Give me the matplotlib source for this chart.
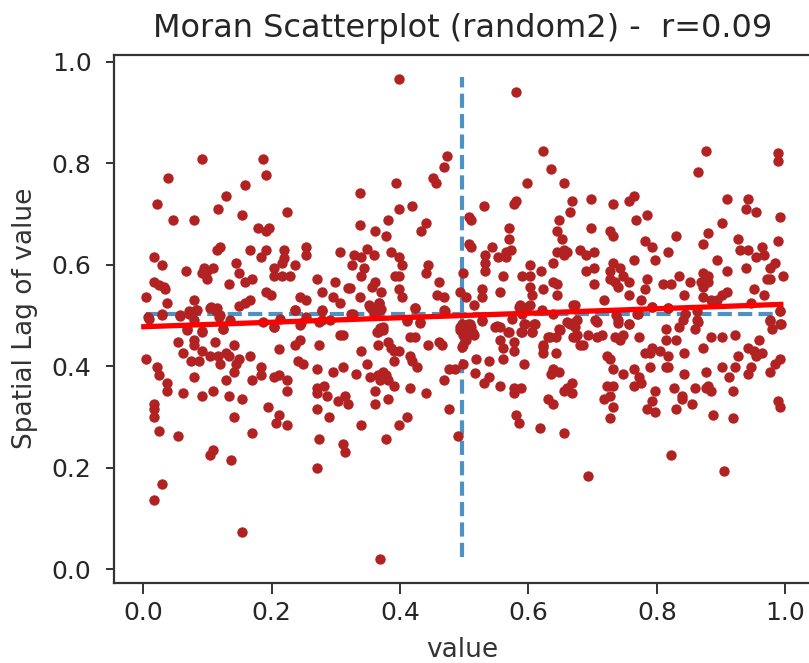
import matplotlib
matplotlib.use("Agg")
import matplotlib.pyplot as plt

# points, region by region
value_upper_left = [.092,.187,.191,.038,.158,.129,.021,.116,.154,.224,.046,.079,.179,.191,.196,.119,.115,.166,.191,.183,
    .220,.220,.253,.253,.307,.017,.029,.145,.066,.095,.108,.091,.100,.100,.149,.158,.170,.133,.203,.216,
    .203,.216,.228,.237,.270,.299,.017,.025,.033,.034,.004,.191,.199,.278,.245,.253,.295,.307,.319,.166,
    .158,.149,.079,.037,.237,.278,.104,.115,.083,.071,.058,.029,.008,.120]
lag_upper_left = [.809,.809,.777,.772,.757,.736,.720,.709,.699,.704,.688,.688,.673,.667,.673,.636,.630,.630,.630,.615,
    .630,.613,.636,.620,.625,.615,.599,.604,.588,.593,.593,.583,.588,.573,.583,.567,.573,.562,.593,.603,
    .578,.578,.578,.599,.573,.567,.567,.561,.557,.552,.536,.546,.541,.546,.536,.531,.536,.525,.555,.531,
    .524,.519,.531,.525,.510,.510,.515,.514,.510,.504,.499,.502,.497,.501]

value_upper_mid = [.399,.581,.623,.473,.469,.635,.452,.456,.394,.598,.656,.337,.668,.581,.577,.531,.419,.399,.664,.507,
    .511,.382,.648,.337,.440,.432,.361,.378,.569,.569,.644,.652,.507,.511,.544,.386,.399,.403,.532,.532,
    .532,.573,.565,.565,.552,.644,.656,.660,.656,.639,.681,.444,.440,.498,.602,.619,.590,.602,.561,.392,
    .399,.361,.357,.461,.639,.644,.602,.623,.527,.556,.399,.370,.322,.494,.457,.469,.403,.527,.502,.606,
    .644,.337,.515,.673,.424,.469,.351,.368,.357,.370,.324,.585,.598,.590,.329,.340,.348,.360,.325,.344,.340]
lag_upper_mid = [.967,.941,.825,.815,.793,.788,.772,.762,.762,.762,.762,.741,.725,.725,.720,.715,.715,.709,.704,.695,
    .688,.688,.688,.678,.683,.667,.667,.657,.673,.651,.667,.651,.641,.636,.636,.625,.615,.599,.620,.604,
    .588,.630,.625,.615,.615,.625,.630,.625,.620,.604,.630,.599,.583,.583,.599,.588,.578,.578,.578,.578,
    .578,.567,.557,.567,.567,.562,.557,.552,.552,.546,.552,.546,.554,.546,.541,.536,.536,.536,.536,.541,
    .541,.536,.520,.520,.515,.510,.520,.524,.512,.512,.504,.517,.517,.504,.620,.615,.631,.620,.600,.594,.578]

value_upper_right = [.876,.988,.988,.864,.698,.731,.764,.756,.909,.942,.938,.955,.785,.768,.992,.901,.698,.727,.731,.880,
    .830,.926,.988,.781,.793,.872,.963,.930,.942,.818,.967,.955,.689,.702,.764,.797,.893,.984,.731,.702,
    .689,.909,.938,.976,.727,.743,.727,.735,.739,.747,.756,.785,.835,.702,.810,.822,.851,.872,.880,.868,
    .880,.872,.971,.996,.976,.781,.951,.756,.843,.909,.901,.967,.872,.893,.884,.718,.776,.947,.793,.818,
    .992,.737,.769]
lag_upper_right = [.825,.820,.804,.783,.730,.720,.736,.725,.730,.730,.709,.704,.699,.688,.694,.683,.673,.667,.657,.662,
    .657,.651,.646,.646,.636,.641,.636,.630,.630,.625,.620,.615,.620,.625,.609,.609,.609,.604,.604,.594,
    .588,.588,.594,.594,.588,.594,.573,.567,.557,.578,.567,.573,.578,.562,.562,.562,.567,.583,.578,.567,
    .567,.557,.573,.578,.573,.552,.552,.541,.541,.546,.541,.541,.536,.531,.531,.531,.531,.525,.517,.514,
    .508,.501,.504]

value_lower_left = [.307,.212,.245,.237,.274,.203,.245,.274,.054,.079,.079,.112,.141,.062,.091,.104,.116,.129,.133,.004,
    .075,.087,.120,.149,.145,.166,.021,.025,.141,.079,.129,.183,.183,.170,.241,.249,.270,.295,.311,.203,
    .212,.224,.224,.037,.037,.062,.091,.108,.133,.154,.270,.270,.282,.286,.303,.315,.319,.017,.017,.017,
    .195,.212,.207,.224,.141,.270,.290,.025,.054,.170,.274,.311,.315,.108,.104,.137,.270,.029,.017,.154,
    .068,.091,.124]
lag_lower_left = [.462,.435,.452,.441,.441,.477,.482,.487,.447,.452,.441,.447,.441,.426,.431,.420,.420,.426,.420,.415,
    .410,.410,.404,.415,.404,.420,.399,.383,.389,.378,.373,.399,.383,.373,.410,.404,.394,.389,.399,.378,
    .383,.373,.352,.368,.352,.347,.341,.352,.341,.336,.357,.347,.362,.341,.331,.341,.326,.326,.315,.300,
    .320,.305,.289,.284,.300,.315,.300,.273,.263,.268,.257,.247,.231,.236,.226,.215,.200,.168,.137,.073,
    .473,.468,.473]

value_lower_mid = [.369,.490,.378,.656,.618,.340,.398,.411,.477,.581,.585,.361,.382,.440,.415,.639,.631,.668,.656,.668,
    .660,.577,.577,.589,.556,.531,.539,.517,.469,.361,.390,.382,.378,.369,.365,.353,.373,.332,.348,.390,
    .427,.419,.415,.340,.365,.382,.386,.390,.398,.415,.423,.444,.460,.465,.477,.485,.498,.519,.539,.560,
    .593,.635,.639,.647,.643,.622,.622,.631,.643,.647,.606,.610,.589,.593,.577,.577,.556,.560,.568,.548,
    .556,.527,.498,.498,.494,.506,.510,.515,.502,.502,.369,.365,.373,.411,.431,.311,.670,.676,.680]
lag_lower_mid = [.021,.263,.257,.268,.278,.284,.284,.300,.315,.305,.289,.326,.336,.347,.357,.326,.336,.347,.352,.368,
    .357,.347,.357,.357,.362,.368,.378,.386,.373,.352,.362,.373,.383,.373,.383,.378,.389,.384,.404,.410,
    .399,.410,.420,.431,.441,.447,.436,.431,.431,.457,.457,.441,.447,.441,.394,.394,.404,.415,.410,.415,
    .404,.384,.394,.389,.426,.441,.426,.457,.457,.473,.468,.483,.468,.483,.447,.431,.452,.436,.468,.478,
    .478,.489,.441,.462,.478,.483,.478,.462,.468,.452,.473,.468,.478,.489,.486,.462,.486,.462,.442]

value_lower_right = [.693,.822,.905,.727,.731,.718,.727,.722,.731,.764,.772,.776,.764,.747,.731,.727,.722,.685,.673,.693,
    .706,.714,.735,.743,.747,.772,.739,.756,.706,.814,.814,.830,.835,.859,.864,.884,.901,.922,.872,.843,
    .781,.793,.789,.805,.818,.789,.814,.818,.843,.876,.901,.922,.926,.913,.947,.942,.976,.984,.992,.959,
    .942,.951,.955,.963,.980,.992,.976,.797,.826,.859,.876,.880,.884,.918,.839,.839,.855,.793,.785,.797,
    .830,.888,.918,.988,.992]
lag_lower_right = [.184,.226,.194,.299,.320,.336,.341,.362,.362,.362,.378,.368,.394,.384,.394,.415,.420,.441,.457,.462,
    .457,.462,.457,.452,.462,.457,.486,.483,.487,.473,.452,.452,.478,.473,.487,.457,.457,.462,.436,.426,
    .426,.436,.426,.431,.420,.399,.399,.399,.384,.389,.399,.399,.420,.378,.399,.384,.389,.405,.415,.452,
    .436,.431,.420,.426,.473,.483,.489,.352,.357,.357,.357,.362,.352,.352,.341,.336,.326,.331,.315,.310,
    .315,.305,.299,.331,.320]

# the crowded strip round the fitted line
value_band = [.009,.030,.058,.071,.084,.105,.114,.118,.136,.068,.092,.124,.079,.187,.204,.213,.237,.253,.246,.278,
    .278,.291,.327,.354,.367,.369,.359,.424,.411,.431,.470,.369,.364,.374,.496,.509,.494,.514,.501,.496,
    .527,.574,.551,.569,.590,.595,.608,.605,.587,.603,.592,.621,.639,.660,.670,.675,.670,.649,.634,.623,
    .704,.740,.756,.771,.792,.818,.844,.841,.862,.862,.976,.992,.994,.673,.665]
lag_band = [.494,.504,.501,.508,.510,.516,.508,.498,.491,.471,.470,.473,.491,.488,.478,.494,.510,.498,.485,.508,
    .491,.491,.504,.517,.524,.511,.504,.514,.492,.488,.509,.475,.468,.471,.484,.484,.471,.465,.458,.438,
    .491,.494,.479,.468,.468,.484,.484,.468,.521,.521,.511,.511,.504,.488,.521,.491,.458,.471,.458,.438,
    .491,.491,.484,.504,.517,.514,.504,.491,.508,.491,.491,.508,.484,.478,.484]

# reference lines and fit
mean_value = [.004, .4965, .99]
mean_lag = [.024, .5025, .97]
fit_value = [.001, .993]
fit_lag = [.478, .522]

tick_values = [0.0, 0.2, 0.4, 0.6, 0.8, 1.0]


def main():
    value = value_upper_left + value_upper_mid + value_upper_right + value_lower_left + value_lower_mid + value_lower_right + value_band
    lag = lag_upper_left + lag_upper_mid + lag_upper_right + lag_lower_left + lag_lower_mid + lag_lower_right + lag_band

    fig = plt.figure(figsize=(8.09, 6.63), dpi=100)
    ax = fig.add_axes([113.5 / 809, 80.3 / 663, 697.5 / 809, 528 / 663])

    dash = (0, (3.4, 1.5))
    ax.vlines(mean_value[1], mean_lag[0], mean_lag[2], colors="C0", linestyles=[dash], linewidth=3.0, alpha=0.8, zorder=1)
    ax.hlines(mean_lag[1], mean_value[0], mean_value[2], colors="C0", linestyles=[dash], linewidth=3.0, alpha=0.8, zorder=1)
    ax.scatter(value, lag, s=56, color="firebrick", linewidths=0, zorder=2)
    ax.plot(fit_value, fit_lag, color="red", linewidth=3.8, zorder=3)

    ax.set_xlim(-0.0462, 1.04)
    ax.set_ylim(-0.0264, 1.014)
    ax.set_xticks(tick_values)
    ax.set_yticks(tick_values)
    ax.tick_params(labelsize=18, width=1.4, color="#333333", labelcolor="#262626")
    ax.tick_params(axis="x", length=8, pad=5)
    ax.tick_params(axis="y", length=5.8, pad=10)
    for spine in ax.spines.values():
        spine.set_linewidth(1.6)
        spine.set_color("#333333")

    ax.set_xlabel("value", fontsize=19, color="#333333")
    ax.set_ylabel("Spatial Lag of value", fontsize=19, color="#333333")
    ax.xaxis.set_label_coords(0.4996, -0.102)
    ax.yaxis.set_label_coords(-0.108, 0.5)
    fig.text(463 / 809, 1 - 28 / 663, "Moran Scatterplot (random2) -  r=0.09", fontsize=23, color="#262626", ha="center", va="center")

    fig.savefig("out.png", dpi=100)


if __name__ == "__main__":
    main()
